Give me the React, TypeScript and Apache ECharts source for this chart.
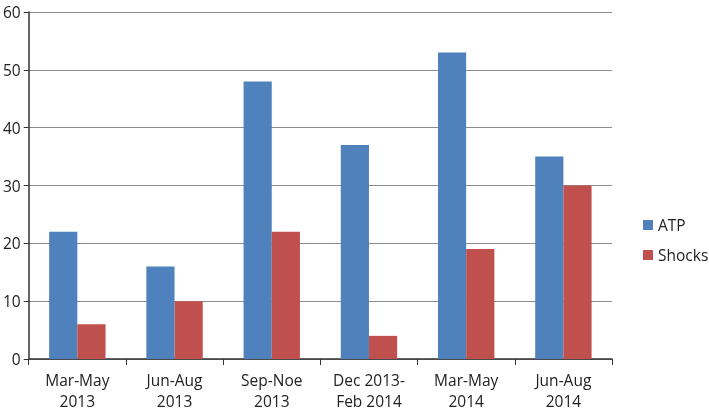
import React, { useEffect, useRef } from "react";
import * as echarts from "echarts";

const categories = ["Mar-May\n2013", "Jun-Aug\n2013", "Sep-Noe\n2013", "Dec 2013-\nFeb 2014", "Mar-May\n2014", "Jun-Aug\n2014"];
const atp = [22, 16, 48, 37, 53, 35];
const shocks = [6, 10, 22, 4, 19, 30];

const FONT = "'Open Sans', sans-serif";

export default function App() {
  const ref = useRef<HTMLDivElement>(null);
  useEffect(() => {
    if (!ref.current) return;
    const chart = echarts.init(ref.current, undefined, { renderer: "svg" });
    chart.setOption({
      animation: false,
      textStyle: { fontFamily: FONT },
      grid: { left: 28, right: 97, top: 12, bottom: 56, containLabel: false },
      legend: {
        orient: "vertical",
        left: 638,
        top: 212,
        width: 70,
        itemWidth: 10,
        itemHeight: 10,
        itemGap: 14,
        icon: "rect",
        textStyle: { fontSize: 15.5, color: "#222", fontFamily: FONT },
        data: ["ATP", "Shocks"],
      },
      xAxis: {
        type: "category",
        data: categories,
        axisLine: { lineStyle: { color: "#333", width: 1.5 } },
        axisTick: { show: true, length: 6, lineStyle: { color: "#333" } },
        axisLabel: { fontSize: 15.5, color: "#222", lineHeight: 21, margin: 10, interval: 0, fontFamily: FONT },
      },
      yAxis: {
        type: "value",
        min: 0,
        max: 60,
        interval: 10,
        axisLine: { show: true, lineStyle: { color: "#333", width: 1.5 } },
        axisTick: { show: true, length: 5, lineStyle: { color: "#333" } },
        axisLabel: { fontSize: 15.5, color: "#222", margin: 8, fontFamily: FONT },
        splitLine: { lineStyle: { color: "#8c8c8c", width: 1 } },
      },
      series: [
        { name: "ATP", type: "bar", data: atp, itemStyle: { color: "#4F81BD" }, barGap: "0%", barCategoryGap: "42%" },
        { name: "Shocks", type: "bar", data: shocks, itemStyle: { color: "#C0504D" }, barGap: "0%", barCategoryGap: "42%" },
      ],
    });
    return () => chart.dispose();
  }, []);
  return <div ref={ref} style={{ position: "fixed", left: 0, top: 0, width: 709, height: 415 }} />;
}
